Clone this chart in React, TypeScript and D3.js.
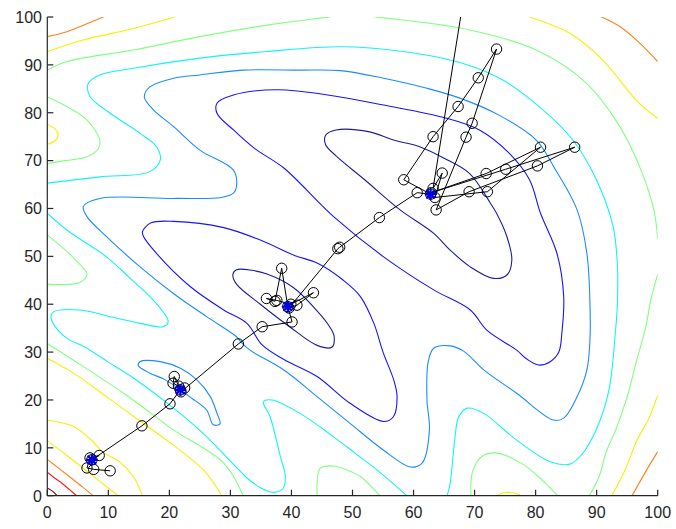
import React from 'react';
import * as d3 from 'd3';

type Pt = [number, number];

const W = 676;
const H = 529;

const xTicks = [0, 10, 20, 30, 40, 50, 60, 70, 80, 90, 100];
const yTicks = [0, 10, 20, 30, 40, 50, 60, 70, 80, 90, 100];

// jet-style colours, index 0 = lowest contour level
const levelColors = ['#1c1ca0', '#1414ff', '#1a8cff', '#10f4f4', '#80ff80', '#f6f000', '#ff8020', '#ff1a1a', '#8c0000'];

// ---- contour lines, level 9 (highest) ----
const darkRedCorner: Pt[] = [[0, 1.6], [0.9, 0.9], [1.6, 0]];

// ---- level 8 ----
const redCorner: Pt[] = [[0, 4.9], [1.2, 3.7], [2.5, 2.5], [3.7, 1.2], [4.8, 0]];

// ---- level 7 ----
const orangeCorner: Pt[] = [[0, 7.6], [1.8, 5.8], [3.8, 3.8], [5.8, 1.8], [7.5, 0]];
const orangeTopLeft: Pt[] = [[0, 95.9], [3.2, 96.9], [5.9, 98.3], [9.2, 100]];
const orangeBottomRight: Pt[] = [[100, 9.2], [98.2, 5.4], [95.8, 0]];
const orangeTopRight: Pt[] = [[90.8, 100], [93.8, 98], [97.1, 94.5], [100, 90.7]];

// ---- level 6 ----
const yellowTopLeft: Pt[] = [[0, 92.8], [5.9, 95.2], [14.1, 97.6], [20.9, 100]];
const yellowBottomRight: Pt[] = [[100, 21], [98.5, 16], [96.6, 11.6], [94.8, 5.8], [92.5, 0]];
const yellowTopRight: Pt[] = [[79, 100], [85.6, 96.6], [91, 91], [96.5, 82.6], [100, 78.8]];
const yellowLeftBump: Pt[] = [[0, 77.6], [1.3, 76.6], [1.8, 75.4], [1.3, 74.2], [0, 73.4]];
const yellowBottomBump: Pt[] = [[73.8, 0], [74.7, 0.6], [75.6, 0.7], [76.4, 0.6], [77.6, 0]];
const yellowLong: Pt[] = [[0, 28.7], [4.4, 25.5], [9.8, 20.6], [15.3, 15.5], [20.7, 10.5], [25.8, 5.1], [28.6, 0]];
const yellowInner: Pt[] = [[0, 15.8], [4.2, 14.5], [7, 11.9], [9.1, 9.1], [11.9, 7], [14.1, 4], [15.6, 0]];
const yellowOuter: Pt[] = [[0, 11.5], [2.9, 8.7], [5.8, 5.8], [8.7, 2.9], [11.6, 0]];

// ---- level 5 ----
const greenTopLeft: Pt[] = [[0, 88.9], [3.2, 90.7], [14.1, 93.1], [25, 95.9], [36, 98.3], [46.3, 100]];
const greenRight: Pt[] = [[53.6, 100], [69.2, 97.3], [80.1, 93.1], [88.3, 86.2], [93.8, 77.1], [97.4, 67.6], [99.4, 59.5], [100, 53.6]];
const greenBottomRight: Pt[] = [[100, 46.3], [98.9, 41], [98, 35], [96.5, 28], [95, 20.7], [93.2, 14], [91.6, 9.3], [90.4, 4], [88.8, 0]];
const greenLeftFinger: Pt[] = [[0, 83.3], [3.2, 81.3], [6.5, 78.5], [8.6, 74.3], [8.4, 72.6], [6.5, 70.8], [3, 70], [0, 69.4]];
const greenBottomFinger: Pt[] = [[69.4, 0], [69.7, 5.2], [71.4, 8.4], [73.6, 8.9], [77.9, 6.6], [81.2, 3.1], [83.6, 0]];
const greenLeftBump: Pt[] = [[0, 54.5], [2.8, 51.5], [5.4, 48.2], [6.5, 46.3], [5.4, 44.6], [2, 44.1], [0, 44.2]];
const greenBottomBump: Pt[] = [[44.2, 0], [44.7, 5.7], [46.9, 6.2], [49, 5.4], [51.3, 4], [54.5, 0]];
const greenLong: Pt[] = [[0, 31.8], [4.3, 28.3], [12.5, 21.4], [17.1, 17.1], [20.7, 13.7], [28.9, 6.8], [32.1, 0]];

// ---- level 4 ----
const cyanOuter: Pt[] = [
  [0, 65.3], [8.6, 66.6], [16.8, 67.7], [18.5, 70.1], [17.9, 72.9], [15.2, 75.7], [10.3, 79.9], [7, 83.4],
  [6.7, 86.1], [8.6, 87.9], [14.1, 89.3], [25, 91.4], [36, 92.8], [48, 93.8], [58.3, 92.8], [68.1, 90.3],
  [74.7, 86.8], [81.2, 80.6], [86.1, 74.3], [90, 65.9], [92.7, 56.2], [93.4, 48], [93.4, 40.2], [93.1, 34.6],
  [92, 22], [90, 14], [87.5, 8.5], [85.6, 6.6], [82.4, 7.1], [76.9, 11.6], [71.5, 17.2], [68.8, 18.3],
  [67.4, 16.5], [66.8, 12.3], [66, 2.6], [65.5, 0],
];
const cyanLeftFinger: Pt[] = [
  [0, 59], [3.2, 55.5], [9.7, 49.9], [13.5, 45.5], [16.8, 41.6], [19.2, 38], [19.8, 36.3], [19, 35.3],
  [15.2, 36], [10, 37.5], [5.4, 38.8], [1, 38.4], [0.6, 37.2], [1.8, 34.5], [3.7, 32.5], [5.9, 31.2],
  [10, 27.9], [14.1, 24.6], [19.4, 19.6], [24.6, 14.1], [27.9, 10], [31, 5.9], [32.8, 3.6], [35, 1.6],
  [37, 0.7], [38.6, 1.5], [39, 4], [38.2, 8.1], [36.5, 16.5], [35.4, 19.6], [36.8, 20], [41.4, 17.2],
  [46.9, 12.3], [50.5, 8.8], [54, 5.4], [58.9, 0],
];

// ---- level 3 ----
const azureLoopLow: Pt[] = [
  [15.2, 28], [18.5, 28], [21.8, 26.6], [24.5, 24.2], [26.7, 20.7], [27.8, 17.2], [28.3, 15], [27.2, 14.8],
  [26.1, 17.9], [23.5, 20.5], [21.8, 22.1], [19.2, 24.3], [16.8, 25.6], [14.9, 27.2],
];
const azureLoopBig: Pt[] = [
  [15.9, 83.3], [16.8, 85.4], [20.7, 87.2], [25, 87.9], [32.1, 88.9], [41.4, 88.9], [48, 88.8], [55.1, 87.2],
  [62.2, 85.1], [67.7, 83], [74, 79.5], [80.1, 74.3], [83.3, 68], [86.8, 59.7], [88.4, 50.6], [88.9, 40.2],
  [88.9, 32.5], [88.4, 26.3], [86.8, 20.7], [84.6, 16.2], [82.9, 15.8], [76.9, 21.4], [71.5, 26.3], [68.2, 30.2],
  [66, 31.3], [63.3, 30.8], [62.4, 28], [62.2, 20], [62.6, 13.7], [61.4, 6.8], [59.5, 6], [55.1, 9.5],
  [49.6, 15.1], [44.2, 20.7], [38.7, 26.3], [33.2, 30.4], [31.8, 32], [31, 33.2], [26.1, 37.4], [20.6, 42.3],
  [15.2, 47.8], [9.7, 54.1], [6.5, 58.3], [5.9, 60.4], [8.6, 62.1], [20.7, 62.1], [28.5, 62.3], [30.5, 63.2],
  [31, 64.6], [30.5, 68], [25, 72.2], [20.7, 77.1], [17.4, 80.6],
];

// ---- level 2 ----
const blueLoopMid: Pt[] = [
  [15.6, 55.2], [17, 57], [20.7, 57.3], [28.9, 56], [34.9, 53.4], [40.5, 50.2], [44.2, 48.6], [48.5, 45],
  [51.3, 41.6], [53.5, 36], [55, 30], [56.8, 24], [57.3, 20.7], [56.7, 16.5], [55.1, 15.5], [49.6, 19.3],
  [44.2, 24.9], [38.7, 28.5], [35.2, 31.5], [32.7, 36], [28.9, 38.8], [23.4, 43.7], [17.9, 50.6], [15.7, 54.3],
];
const blueLoopTop: Pt[] = [
  [27.8, 82], [30.5, 83.7], [37.6, 84.8], [47, 83.5], [55.1, 81.6], [65, 79], [70.8, 76.4], [75.7, 71.5],
  [79, 66], [80.8, 59], [83.5, 50.6], [84.6, 41.6], [84.3, 34], [83.8, 30], [82.4, 28], [80.5, 27.3],
  [78.5, 28.6], [76.9, 30.4], [72, 34.6], [69.3, 38.8], [63.3, 43], [55.1, 49.9], [46.9, 58.3], [38.7, 68.5],
  [34, 72.5], [30.5, 76.4], [27.8, 79.9],
];

// ---- level 1 (lowest) ----
const navyLoopMid: Pt[] = [
  [31, 47.2], [33.5, 47.1], [36, 46.3], [40.3, 43.5], [44.2, 38.6], [46.4, 35], [47, 33.2], [46.6, 31],
  [44.2, 31.4], [39.8, 35.2], [34.9, 40], [31, 44.2], [30.4, 46.2],
];
const navyLoopTop: Pt[] = [
  [45.6, 75.3], [47.3, 76.4], [52.8, 76], [56.7, 74.3], [61, 72.9], [65, 70.5], [69.2, 67.3], [72.6, 61.1],
  [73.6, 59], [75.3, 54.1], [76.1, 49.2], [75.3, 46.1], [73.1, 45.4], [69.3, 47.8], [66, 51.3], [63.3, 54.8],
  [57.8, 59.7], [52, 66], [47.3, 71], [45.6, 73.3],
];

type Contour = { level: number; closed: boolean; pts: Pt[] };

const contours: Contour[] = [
  { level: 9, closed: false, pts: darkRedCorner },
  { level: 8, closed: false, pts: redCorner },
  { level: 7, closed: false, pts: orangeCorner },
  { level: 7, closed: false, pts: orangeTopLeft },
  { level: 7, closed: false, pts: orangeBottomRight },
  { level: 7, closed: false, pts: orangeTopRight },
  { level: 6, closed: false, pts: yellowTopLeft },
  { level: 6, closed: false, pts: yellowBottomRight },
  { level: 6, closed: false, pts: yellowTopRight },
  { level: 6, closed: false, pts: yellowLeftBump },
  { level: 6, closed: false, pts: yellowBottomBump },
  { level: 6, closed: false, pts: yellowLong },
  { level: 6, closed: false, pts: yellowInner },
  { level: 6, closed: false, pts: yellowOuter },
  { level: 5, closed: false, pts: greenTopLeft },
  { level: 5, closed: false, pts: greenRight },
  { level: 5, closed: false, pts: greenBottomRight },
  { level: 5, closed: false, pts: greenLeftFinger },
  { level: 5, closed: false, pts: greenBottomFinger },
  { level: 5, closed: false, pts: greenLeftBump },
  { level: 5, closed: false, pts: greenBottomBump },
  { level: 5, closed: false, pts: greenLong },
  { level: 4, closed: false, pts: cyanOuter },
  { level: 4, closed: false, pts: cyanLeftFinger },
  { level: 3, closed: true, pts: azureLoopLow },
  { level: 3, closed: true, pts: azureLoopBig },
  { level: 2, closed: true, pts: blueLoopMid },
  { level: 2, closed: true, pts: blueLoopTop },
  { level: 1, closed: true, pts: navyLoopMid },
  { level: 1, closed: true, pts: navyLoopTop },
];

// iterates visited by the search, in order
const searchPath: Pt[] = [
  [10.3, 5.2], [7.6, 5.5], [6.5, 5.8], [7.0, 7.9], [8.5, 8.4], [7.3, 7.5],
  [15.5, 14.6], [20.1, 19.2], [21.8, 22.1], [20.8, 24.9], [20.6, 23.5], [21.5, 22.9], [22.5, 22.5], [21.9, 21.7],
  [31.3, 31.7], [35.2, 35.3], [40.1, 36.3], [39.4, 39.5], [38.4, 47.5], [37.3, 40.6], [35.9, 41.2], [37.6, 40.8],
  [39.9, 40.0], [43.6, 42.4], [40.9, 39.8], [39.6, 39.2],
  [47.6, 51.6], [47.9, 51.9], [54.4, 58.1], [60.6, 63.3], [62.8, 63.0],
  [58.4, 66.0], [63.2, 75.0], [67.3, 81.3], [70.6, 87.3], [73.6, 93.3], [69.6, 77.8], [68.6, 74.9], [63.7, 59.7],
  [69.1, 63.5], [80.3, 68.9], [86.4, 72.8], [75.1, 68.2], [62.9, 63.3], [71.9, 67.3], [80.8, 72.8], [72.1, 63.5],
  [63.5, 62.3], [64.7, 67.4], [63.2, 64.2], [68.6, 107],
];

// local minima reported by the search
const minima: Pt[] = [[7.3, 7.5], [21.8, 22.1], [39.4, 39.5], [62.8, 63.0]];

const x = d3.scaleLinear().domain([0, 100]).range([47.3, 657.7]);
const y = d3.scaleLinear().domain([0, 100]).range([495.7, 17]);

const openLine = d3
  .line<Pt>()
  .x((d) => x(d[0]))
  .y((d) => y(d[1]))
  .curve(d3.curveCatmullRom.alpha(0.5));

const closedLine = d3
  .line<Pt>()
  .x((d) => x(d[0]))
  .y((d) => y(d[1]))
  .curve(d3.curveCatmullRomClosed.alpha(0.5));

const pathLine = d3
  .line<Pt>()
  .x((d) => x(d[0]))
  .y((d) => y(d[1]));

const FONT = '"Liberation Sans", Arial, Helvetica, sans-serif';
const AXIS = '#262626';

export default function App() {
  const x0 = x(0);
  const y0 = y(0);
  return (
    <div style={{ position: 'fixed', left: 0, top: 0, width: W, height: H, background: '#fff' }}>
      <svg width={W} height={H} viewBox={`0 0 ${W} ${H}`} style={{ display: 'block' }}>
        <defs>
          <clipPath id="plotClip">
            <rect x={x(0)} y={y(100)} width={x(100) - x(0)} height={y(0) - y(100)} />
          </clipPath>
        </defs>
        <rect x={0} y={0} width={W} height={H} fill="#fff" />

        <g clipPath="url(#plotClip)">
          {contours.map((c, i) => (
            <path
              key={i}
              d={(c.closed ? closedLine : openLine)(c.pts) || ''}
              fill="none"
              stroke={levelColors[c.level - 1]}
              strokeWidth={1.1}
            />
          ))}

          <path d={pathLine(searchPath) || ''} fill="none" stroke="#000" strokeWidth={1} />
          {searchPath.map((p, i) => (
            <circle key={i} cx={x(p[0])} cy={y(p[1])} r={5.2} fill="none" stroke="#000" strokeWidth={1} />
          ))}
          {minima.map((p, i) => {
            const cx = x(p[0]);
            const cy = y(p[1]);
            const s = 5;
            const d = 3.6;
            return (
              <g key={i} stroke="#0000e6" strokeWidth={2.2} strokeLinecap="round">
                <line x1={cx - s} y1={cy} x2={cx + s} y2={cy} />
                <line x1={cx} y1={cy - s} x2={cx} y2={cy + s} />
                <line x1={cx - d} y1={cy - d} x2={cx + d} y2={cy + d} />
                <line x1={cx - d} y1={cy + d} x2={cx + d} y2={cy - d} />
              </g>
            );
          })}
        </g>

        {/* axes */}
        <line x1={x0} y1={y(0)} x2={x0} y2={y(100)} stroke={AXIS} strokeWidth={1.2} />
        <line x1={x(0)} y1={y0} x2={x(100)} y2={y0} stroke={AXIS} strokeWidth={1.2} />
        {xTicks.map((t) => (
          <g key={`x${t}`}>
            <line x1={x(t)} y1={y0} x2={x(t)} y2={y0 - 6} stroke={AXIS} strokeWidth={1.2} />
            <text x={x(t)} y={517.5} textAnchor="middle" fontFamily={FONT} fontSize={16} fill={AXIS}>
              {t}
            </text>
          </g>
        ))}
        {yTicks.map((t) => (
          <g key={`y${t}`}>
            <line x1={x0} y1={y(t)} x2={x0 + 6} y2={y(t)} stroke={AXIS} strokeWidth={1.2} />
            <text x={42} y={y(t) + 5.8} textAnchor="end" fontFamily={FONT} fontSize={16} fill={AXIS}>
              {t}
            </text>
          </g>
        ))}
      </svg>
    </div>
  );
}
